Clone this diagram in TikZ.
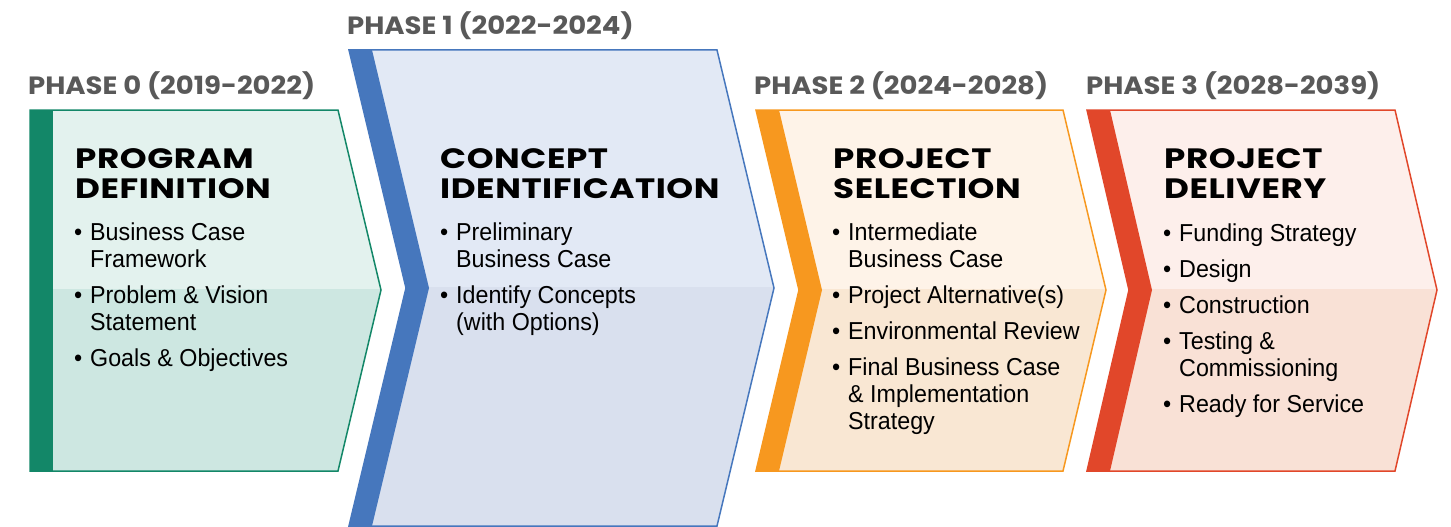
\documentclass[tikz,border=0pt]{standalone}
\usepackage{fontspec}
\setmainfont{Liberation Sans}
\newfontfamily\headfont{Poppins}[FakeStretch=1.22, LetterSpace=2]
\newfontfamily\phasefont{Poppins}[FakeStretch=1.1]
\newfontfamily\bodyfont{Liberation Sans}[FakeStretch=0.95]

\definecolor{labelgray}{HTML}{595959}
\definecolor{greenbar}{HTML}{138768}
\definecolor{greentop}{HTML}{E3F2EE}
\definecolor{greenbot}{HTML}{CDE7E1}
\definecolor{bluebar}{HTML}{4677BD}
\definecolor{bluetop}{HTML}{E2E9F5}
\definecolor{bluebot}{HTML}{D9E0EE}
\definecolor{orangebar}{HTML}{F7981F}
\definecolor{orangetop}{HTML}{FEF3E8}
\definecolor{orangebot}{HTML}{F9E7D3}
\definecolor{redbar}{HTML}{E1472A}
\definecolor{redtop}{HTML}{FDEFEB}
\definecolor{redbot}{HTML}{F9E1D6}

\newcommand{\bl}{\makebox[16pt][l]{\textbullet}}
\newcommand{\ind}{\hspace*{16pt}}

\tikzset{
  phase/.style={anchor=base west, inner sep=0pt, text=labelgray,
    font=\phasefont\bfseries\fontsize{25}{25}\selectfont},
  title/.style={anchor=base west, inner sep=0pt, align=left,
    font=\headfont\bfseries\fontsize{28}{30}\selectfont},
  items/.style={anchor=base west, inner sep=0pt, align=left,
    font=\bodyfont\fontsize{24.5}{27}\selectfont},
  outline/.style={line width=1.5pt}
}

\begin{document}
\begin{tikzpicture}[x=1pt, y=-1pt]
    \useasboundingbox (0, 0) rectangle (1451, 527);

    % phase 0
    \begin{scope}
      \clip (30, 110) -- (338, 110) -- (381, 290) -- (338, 471) -- (30, 471) -- cycle;
      \fill [greentop] (0,   0) rectangle (1451, 289);
      \fill [greenbot] (0, 289) rectangle (1451, 527);
    \end{scope}
    \fill [greenbar] (30, 110) rectangle (53, 471);
    \draw [greenbar, outline] (30, 110) -- (338, 110) -- (381, 290) -- (338, 471) -- (30, 471) -- cycle;

    % phase 1
    \begin{scope}
      \clip (349, 50) -- (717, 50) -- (774, 288) -- (717, 526) -- (349, 526) -- (406, 288) -- cycle;
      \fill [bluetop] (0,   0) rectangle (1451, 287);
      \fill [bluebot] (0, 287) rectangle (1451, 527);
    \end{scope}
    \fill [bluebar] (349, 50) -- (372, 50) -- (429, 288) -- (372, 526) -- (349, 526) -- (406, 288) -- cycle;
    \draw [bluebar, outline] (349, 50) -- (717, 50) -- (774, 288) -- (717, 526) -- (349, 526) -- (406, 288) -- cycle;

    % phase 2
    \begin{scope}
      \clip (756, 110) -- (1063, 110) -- (1106, 290) -- (1063, 471) -- (756, 471) -- (799, 290) -- cycle;
      \fill [orangetop] (0,   0) rectangle (1451, 289);
      \fill [orangebot] (0, 289) rectangle (1451, 527);
    \end{scope}
    \fill [orangebar] (756, 110) -- (779, 110) -- (822, 290) -- (779, 471) -- (756, 471) -- (799, 290) -- cycle;
    \draw [orangebar, outline] (756, 110) -- (1063, 110) -- (1106, 290) -- (1063, 471) -- (756, 471) -- (799, 290) -- cycle;

    % phase 3
    \begin{scope}
      \clip (1087, 110) -- (1395, 110) -- (1437, 290) -- (1395, 471) -- (1087, 471) -- (1129, 290) -- cycle;
      \fill [redtop] (0,   0) rectangle (1451, 289);
      \fill [redbot] (0, 289) rectangle (1451, 527);
    \end{scope}
    \fill [redbar] (1087, 110) -- (1110, 110) -- (1152, 290) -- (1110, 471) -- (1087, 471) -- (1129, 290) -- cycle;
    \draw [redbar, outline] (1087, 110) -- (1395, 110) -- (1437, 290) -- (1395, 471) -- (1087, 471) -- (1129, 290) -- cycle;

    % phase labels
    \node [phase] (phase0) at (  28, 95) {PHASE 0 (2019-2022)};
    \node [phase] (phase1) at ( 347, 35) {PHASE 1 (2022-2024)};
    \node [phase] (phase2) at ( 754, 95) {PHASE 2 (2024-2028)};
    \node [phase] (phase3) at (1086, 95) {PHASE 3 (2028-2039)};

    % titles (base = last line)
    \node [title] (title0) at (  75, 198) {PROGRAM\\DEFINITION};
    \node [title] (title1) at ( 440, 198) {CONCEPT\\IDENTIFICATION};
    \node [title] (title2) at ( 833, 198) {PROJECT\\SELECTION};
    \node [title] (title3) at (1164, 198) {PROJECT\\DELIVERY};

    % bullets (base = last line)
    \node [items] (items0) at (  74, 366) {\bl Business Case\\\ind Framework\\[9pt]
      \bl Problem \& Vision\\\ind Statement\\[9pt]
      \bl Goals \& Objectives};
    \node [items] (items1) at ( 440, 330) {\bl Preliminary\\\ind Business Case\\[9pt]
      \bl Identify Concepts\\\ind (with Options)};
    \node [items] (items2) at ( 832, 429) {\bl Intermediate\\\ind Business Case\\[9pt]
      \bl Project Alternative(s)\\[9pt]
      \bl Environmental Review\\[9pt]
      \bl Final Business Case\\\ind \& Implementation\\\ind Strategy};
    \node [items] (items3) at (1163, 412) {\bl Funding Strategy\\[9pt]
      \bl Design\\[9pt]
      \bl Construction\\[9pt]
      \bl Testing \&\\\ind Commissioning\\[9pt]
      \bl Ready for Service};
  \end{tikzpicture}
\end{document}
